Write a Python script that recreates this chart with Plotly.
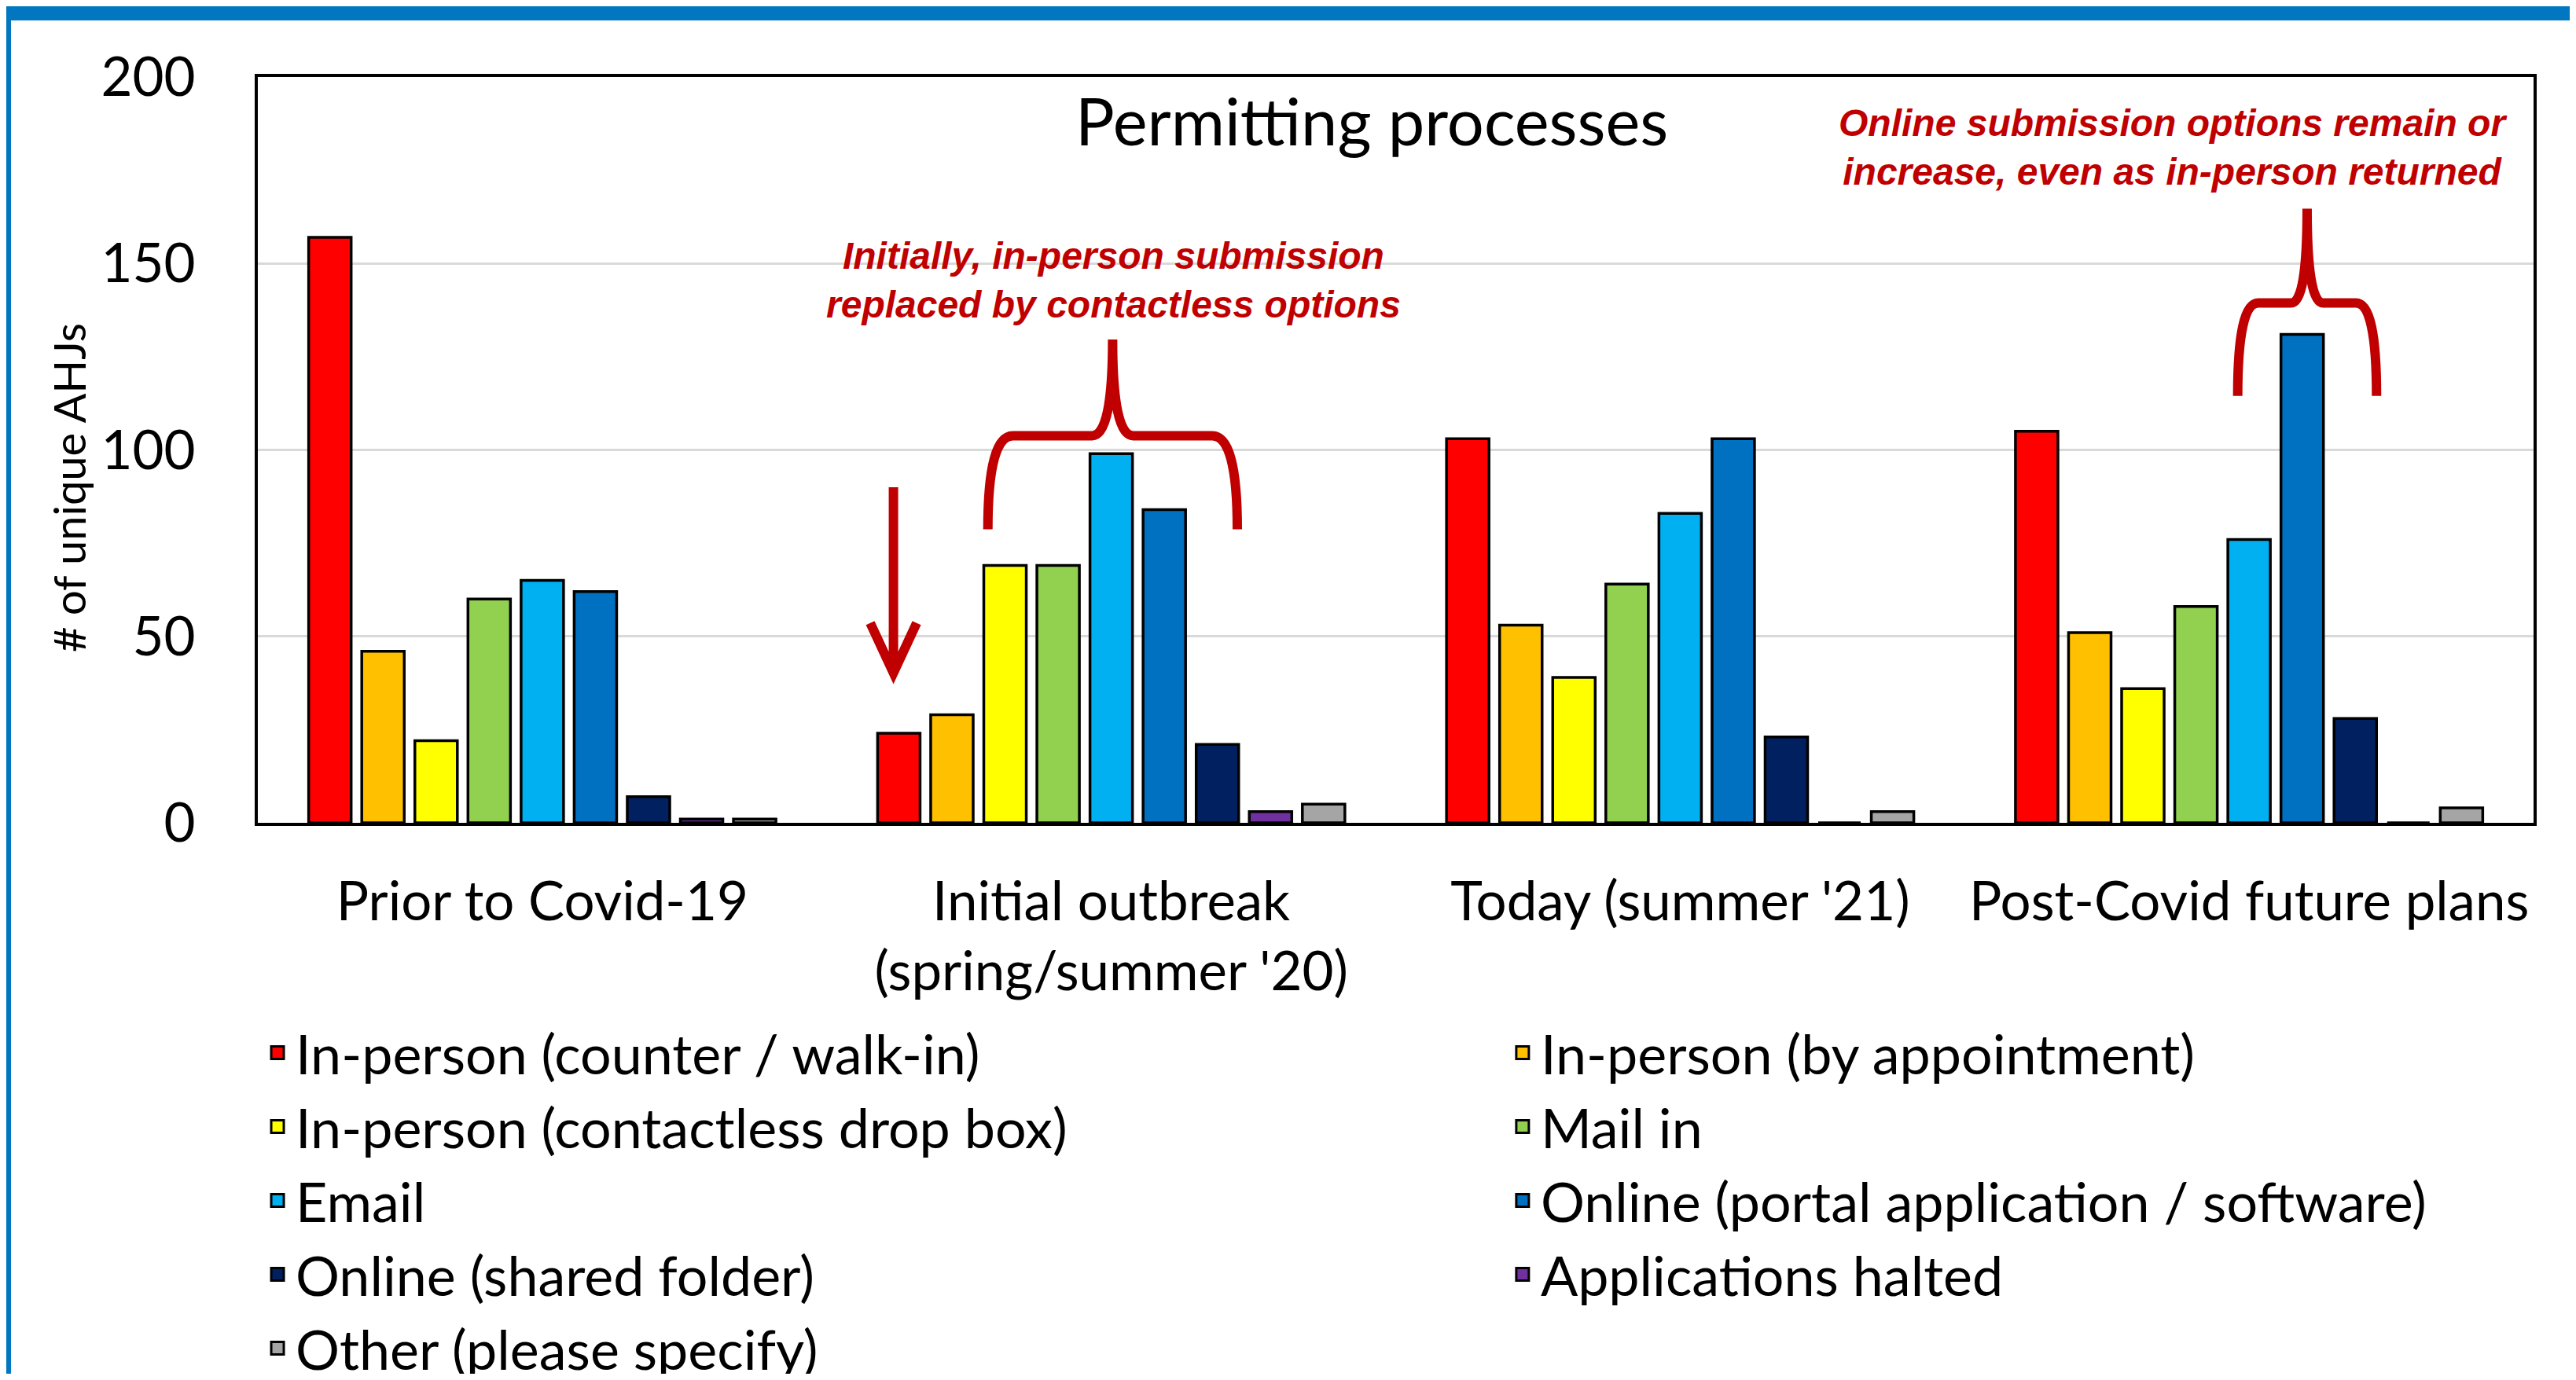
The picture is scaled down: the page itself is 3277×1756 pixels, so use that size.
import plotly.graph_objects as go

# ---------------- data ----------------
categories = ["Prior to Covid-19", "Initial outbreak<br>(spring/summer '20)",
              "Today (summer '21)", "Post-Covid future plans"]

series_names = [
    "In-person (counter / walk-in)",
    "In-person (by appointment)",
    "In-person (contactless drop box)",
    "Mail in",
    "Email",
    "Online (portal application / software)",
    "Online (shared folder)",
    "Applications halted",
    "Other (please specify)",
]
in_person_counter = [157, 24, 103, 105]
in_person_appt = [46, 29, 53, 51]
in_person_dropbox = [22, 69, 39, 36]
mail_in = [60, 69, 64, 58]
email = [65, 99, 83, 76]
online_portal = [62, 84, 103, 131]
online_shared = [7, 21, 23, 28]
apps_halted = [1, 3, 0, 0]
other = [1, 5, 3, 4]
series_values = [in_person_counter, in_person_appt, in_person_dropbox, mail_in,
                 email, online_portal, online_shared, apps_halted, other]
series_colors = ["#FF0000", "#FFC000", "#FFFF00", "#92D050", "#00B0F0",
                 "#0070C0", "#002060", "#7030A0", "#A5A5A5"]

y_ticks = [0, 50, 100, 150, 200]

FONT = "Lato, 'Open Sans', sans-serif"
RED = "#C00000"
BLUE = "#0077C0"

fig = go.Figure()
for name, vals, col in zip(series_names, series_values, series_colors):
    fig.add_trace(go.Bar(x=categories, y=vals, name=name, showlegend=False,
                         marker=dict(color=col, line=dict(color="black", width=3.5))))
# legend swatches: two legend columns (left column = even entries, right = odd)
for i, (name, col) in enumerate(zip(series_names, series_colors)):
    fig.add_trace(go.Scatter(x=[None], y=[None], mode="markers", name=name,
                             legend="legend" if i % 2 == 0 else "legend2",
                             marker=dict(symbol="square", size=16, color=col,
                                         line=dict(color="black", width=3))))

# page body adds an 8px offset; the figure is sized so the page fits the window
W, H = 3261, 1740
ML, MR, MT, MB = 320, 46, 90, 701
PW, PH = W - ML - MR, H - MT - MB


def px_x(fx):  # figure pixel x -> paper
    return (fx - ML) / PW


def px_y(fy):  # figure pixel y -> paper
    return (H - MB - fy) / PH


# ---------- decorations ----------
shapes = [
    dict(type="rect", xref="paper", yref="paper", x0=px_x(0), x1=px_x(W),
         y0=px_y(18), y1=px_y(0), fillcolor=BLUE, line=dict(width=0), layer="above"),
    dict(type="rect", xref="paper", yref="paper", x0=px_x(0), x1=px_x(6),
         y0=px_y(H), y1=px_y(0), fillcolor=BLUE, line=dict(width=0), layer="above"),
]


def brace(x0, x1, xc, yb, yh, yp, dxc, dxn):
    return (f"M {x0},{yb} Q {x0},{yh} {x0+dxc},{yh} L {xc-dxn},{yh} "
            f"Q {xc},{yh} {xc},{yp} Q {xc},{yh} {xc+dxn},{yh} "
            f"L {x1-dxc},{yh} Q {x1},{yh} {x1},{yb}")


shapes.append(dict(type="path", xref="paper", yref="y",
                   path=brace(0.3208, 0.4304, 0.3756, 78.7, 103.8, 129.6, 0.011, 0.009),
                   line=dict(color=RED, width=12)))
shapes.append(dict(type="path", xref="paper", yref="y",
                   path=brace(0.870, 0.931, 0.9005, 114.5, 139.4, 164.7, 0.009, 0.007),
                   line=dict(color=RED, width=12)))
ax_, a_top, a_tip, a_dx, a_dy = 0.2793, 90, 40.2, 0.0102, 13.4
shapes.append(dict(type="path", xref="paper", yref="y",
                   path=(f"M {ax_},{a_top} L {ax_},{a_tip} "
                         f"M {ax_-a_dx},{a_tip+a_dy} L {ax_},{a_tip} L {ax_+a_dx},{a_tip+a_dy}"),
                   line=dict(color=RED, width=12)))

annotations = [
    dict(text="Permitting processes", xref="paper", yref="paper", x=0.4895, y=0.942,
         xanchor="center", yanchor="middle", showarrow=False,
         font=dict(family=FONT, size=83, color="black")),
    dict(text="<b><i>Initially, in-person submission<br>replaced by contactless options</i></b>",
         xref="paper", yref="paper", x=0.376, y=0.728, xanchor="center", yanchor="middle",
         showarrow=False,
         font=dict(family="Liberation Sans, Arial, sans-serif", size=48, color=RED)),
    dict(text="<b><i>Online submission options remain or<br>increase, even as in-person returned</i></b>",
         xref="paper", yref="paper", x=0.8414, y=0.906, xanchor="center", yanchor="middle",
         showarrow=False,
         font=dict(family="Liberation Sans, Arial, sans-serif", size=48, color=RED)),
    dict(text="# of unique AHJs", xref="paper", yref="paper", x=-0.0829, y=0.449,
         xanchor="center", yanchor="middle", textangle=-90, showarrow=False,
         font=dict(family=FONT, size=56, color="black")),
]

legend_common = dict(orientation="v", yanchor="top", xanchor="left", itemwidth=36,
                     traceorder="normal", bgcolor="rgba(0,0,0,0)", borderwidth=0,
                     font=dict(family=FONT, size=70, color="black"))

fig.update_layout(
    template="none",
    width=W, height=H,
    margin=dict(l=ML, r=MR, t=MT, b=MB, autoexpand=False),
    paper_bgcolor="white", plot_bgcolor="white",
    font=dict(family=FONT, size=69, color="black"),
    barmode="group", bargap=0.16, bargroupgap=0.2,
    shapes=shapes, annotations=annotations,
    showlegend=True,
    legend=dict(x=0.0007, y=-0.2535, **legend_common),
    legend2=dict(x=0.5478, y=-0.2535, **legend_common),
    xaxis=dict(showline=True, linecolor="black", linewidth=3.5, mirror=True,
               showgrid=False, ticks="", tickangle=0, ticklabelstandoff=37,
               tickfont=dict(family=FONT, size=69), automargin=False),
    yaxis=dict(range=[0, 200], tickvals=y_ticks, showline=True, linecolor="black",
               linewidth=3.5, mirror=True, showgrid=True, gridcolor="#D9D9D9",
               gridwidth=2.5, zeroline=False, ticks="", ticklabelstandoff=62,
               tickfont=dict(family=FONT, size=69), automargin=False),
)

fig.write_html("out.html")
